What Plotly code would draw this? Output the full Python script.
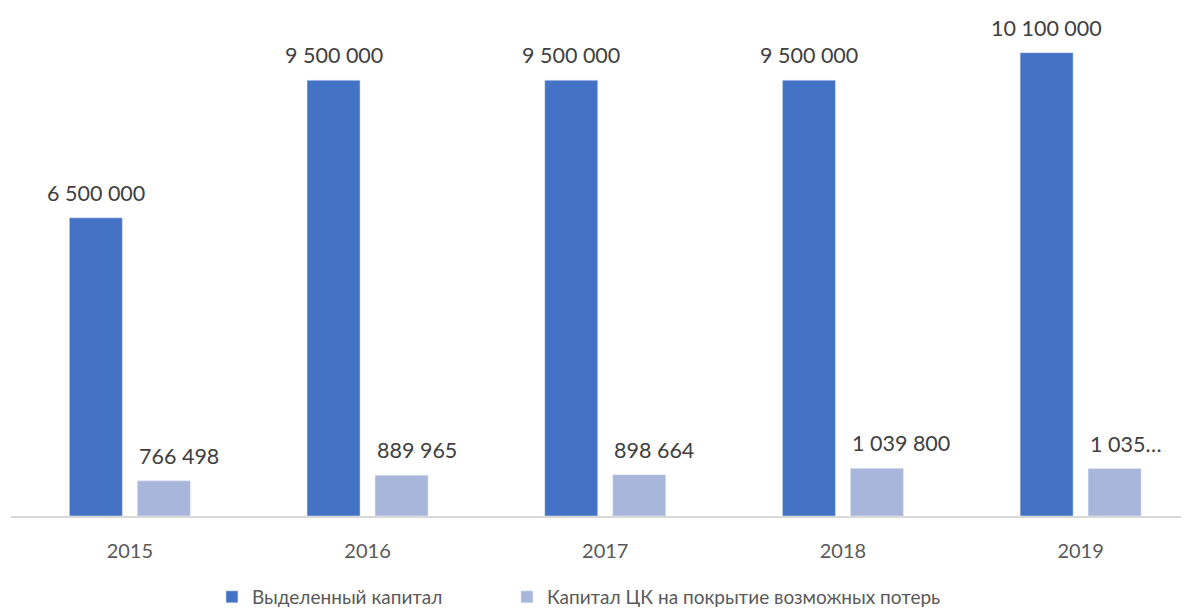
import plotly.graph_objects as go

years = ["2015", "2016", "2017", "2018", "2019"]
allocated = [6500000, 9500000, 9500000, 9500000, 10100000]
allocated_labels = ["6 500 000", "9 500 000", "9 500 000", "9 500 000", "10 100 000"]
cb_capital = [766498, 889965, 898664, 1039800, 1035000]
cb_labels = ["766 498", "889 965", "898 664", "1 039 800", "1 035…"]

name_allocated = "Выделенный капитал"
name_cb = "Капитал ЦК на покрытие возможных потерь"

FONT = "Lato, 'Open Sans', sans-serif"
DARK = "#4472C4"
LIGHT = "#A9B6DB"

fig = go.Figure()
fig.add_trace(go.Bar(x=years, y=allocated, name=name_allocated, marker_color=DARK, legend="legend"))
fig.add_trace(go.Bar(x=years, y=cb_capital, name=name_cb, marker_color=LIGHT, legend="legend2"))

# value labels above bars (x given as category index)
for i, (v, t) in enumerate(zip(allocated, allocated_labels)):
    fig.add_annotation(x=i, y=v, text=t, xref="x", yref="y", showarrow=False,
                       xanchor="center", yanchor="bottom", xshift=-34, yshift=10,
                       font={"family": FONT, "size": 21.5, "color": "#404040"})
for i, (v, t) in enumerate(zip(cb_capital, cb_labels)):
    fig.add_annotation(x=i, y=v, text=t, xref="x", yref="y", showarrow=False,
                       xanchor="left", yanchor="bottom", xshift=7, yshift=10,
                       font={"family": FONT, "size": 21.5, "color": "#404040"})

legend_style = {
    "orientation": "h",
    "xanchor": "left",
    "y": -0.160,
    "yanchor": "middle",
    "font": {"family": FONT, "size": 19, "color": "#595959"},
}

fig.update_layout(
    width=1181,
    height=605,
    margin={"l": 3, "r": 0, "t": 2, "b": 97, "autoexpand": False},
    paper_bgcolor="white",
    plot_bgcolor="white",
    barmode="group",
    bargap=0.428,
    bargroupgap=0.22,
    showlegend=True,
    legend={**legend_style, "x": 0.1706},
    legend2={**legend_style, "x": 0.421},
    xaxis={
        "type": "category",
        "range": [-0.5, 4.456],
        "showline": True,
        "linecolor": "#D9D9D9",
        "linewidth": 1.5,
        "showgrid": False,
        "ticks": "",
        "ticklabelstandoff": 16,
        "tickfont": {"family": FONT, "size": 20, "color": "#595959"},
    },
    yaxis={
        "range": [0, 11030000],
        "visible": False,
        "showgrid": False,
        "zeroline": False,
    },
)

fig.write_html("out.html")
